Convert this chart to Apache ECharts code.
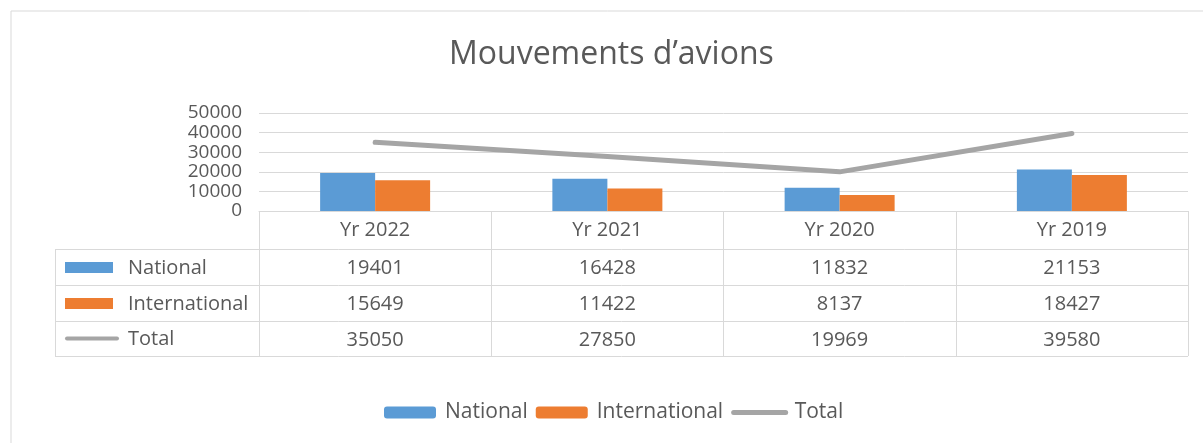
<!DOCTYPE html>
<html>
<head>
<meta charset="utf-8">
<script src="https://cdn.jsdelivr.net/npm/echarts@6/dist/echarts.min.js"></script>
<style>
  html, body { margin: 0; padding: 0; background: #fff; }
  #chart { width: 1203px; height: 443px; }
</style>
</head>
<body>
<div id="chart"></div>
<script>
// data
const categories = ['Yr 2022', 'Yr 2021', 'Yr 2020', 'Yr 2019'];
const national = [19401, 16428, 11832, 21153];
const international = [15649, 11422, 8137, 18427];
const total = [35050, 27850, 19969, 39580];
const seriesNames = ['National', 'International', 'Total'];

const font = '"Open Sans", sans-serif';
const textColor = '#595959';
const lineColor = '#d9d9d9';
const colors = ['#5b9bd5', '#ed7d31', '#a5a5a5'];

// layout of the plot + data table
const gridLeft = 259, gridRight = 1188, axisY = 211;
const rowLines = [249, 285, 321, 356];
const tableLeft = 55;

const chart = echarts.init(document.getElementById('chart'));

// each table row is an extra category axis pushed down with offset
const rowValues = [national, international, total];
const rowAxes = rowValues.map((vals, i) => ({
  type: 'category',
  data: vals.map(String),
  position: 'bottom',
  offset: rowLines[i] - axisY,
  axisLine: { show: false },
  axisTick: { show: false },
  axisLabel: { interval: 0, margin: 9, fontFamily: font, fontSize: 20, color: textColor }
}));

// left column of the table: legend keys + names
const graphics = [
  { type: 'rect', shape: { x: 11, y: 11, width: 1200, height: 440 }, style: { fill: 'none', stroke: lineColor, lineWidth: 1 }, silent: true }
];
rowLines.forEach(y => {
  graphics.push({ type: 'line', shape: { x1: tableLeft, y1: y + 0.5, x2: gridRight, y2: y + 0.5 }, style: { stroke: lineColor, lineWidth: 1 }, silent: true });
});
graphics.push({ type: 'line', shape: { x1: tableLeft + 0.5, y1: rowLines[0], x2: tableLeft + 0.5, y2: rowLines[3] }, style: { stroke: lineColor, lineWidth: 1 }, silent: true });
seriesNames.forEach((name, i) => {
  const cy = (rowLines[i] + rowLines[i + 1]) / 2;
  if (i < 2) {
    graphics.push({ type: 'rect', shape: { x: 65, y: cy - 5, width: 48, height: 11 }, style: { fill: colors[i] }, silent: true });
  } else {
    graphics.push({ type: 'line', shape: { x1: 67, y1: cy, x2: 117, y2: cy }, style: { stroke: colors[i], lineWidth: 4, lineCap: 'round' }, silent: true });
  }
  graphics.push({ type: 'text', x: 128, y: cy + 1, style: { text: name, fontFamily: font, fontSize: 20, fill: textColor, verticalAlign: 'middle' }, silent: true });
});

const option = {
  animation: false,
  backgroundColor: '#fff',
  title: {
    text: 'Mouvements d’avions',
    left: 444,
    top: 34,
    textStyle: { fontFamily: font, fontSize: 32, fontWeight: 'normal', color: textColor }
  },
  legend: {
    left: 384,
    top: 402,
    padding: 0,
    itemWidth: 52,
    itemHeight: 12,
    itemGap: 8,
    textStyle: { fontFamily: font, fontSize: 21, color: textColor, padding: [0, 0, 0, 4] },
    data: [
      { name: 'National' },
      { name: 'International' },
      { name: 'Total', itemStyle: { opacity: 0 }, lineStyle: { width: 5, cap: 'round' } }
    ]
  },
  grid: { left: gridLeft, right: 1203 - gridRight, top: 113, bottom: 443 - axisY, containLabel: false },
  xAxis: [
    {
      type: 'category',
      data: categories,
      position: 'bottom',
      axisLine: { lineStyle: { color: lineColor, width: 1 } },
      axisTick: { show: true, interval: 0, length: rowLines[3] - axisY, lineStyle: { color: lineColor } },
      axisLabel: { interval: 0, margin: 9, fontFamily: font, fontSize: 20, color: textColor }
    },
    ...rowAxes
  ],
  yAxis: {
    type: 'value',
    min: 0,
    max: 50000,
    interval: 10000,
    axisLine: { show: false },
    axisTick: { show: false },
    axisLabel: {
      margin: 17, fontFamily: font, fontSize: 19, color: textColor, lineHeight: 15,
      showMinLabel: true, showMaxLabel: true, hideOverlap: false,
      formatter: v => String(v)
    },
    splitLine: { lineStyle: { color: lineColor, width: 1 } }
  },
  series: [
    { name: 'National', type: 'bar', data: national, barWidth: 55, barGap: '0%', itemStyle: { color: colors[0] } },
    { name: 'International', type: 'bar', data: international, barWidth: 55, barGap: '0%', itemStyle: { color: colors[1] } },
    { name: 'Total', type: 'line', data: total, symbol: 'none', z: 5,
      lineStyle: { color: colors[2], width: 5, cap: 'round' }, itemStyle: { color: colors[2] } }
  ],
  graphic: graphics
};

chart.setOption(option);
</script>
</body>
</html>
